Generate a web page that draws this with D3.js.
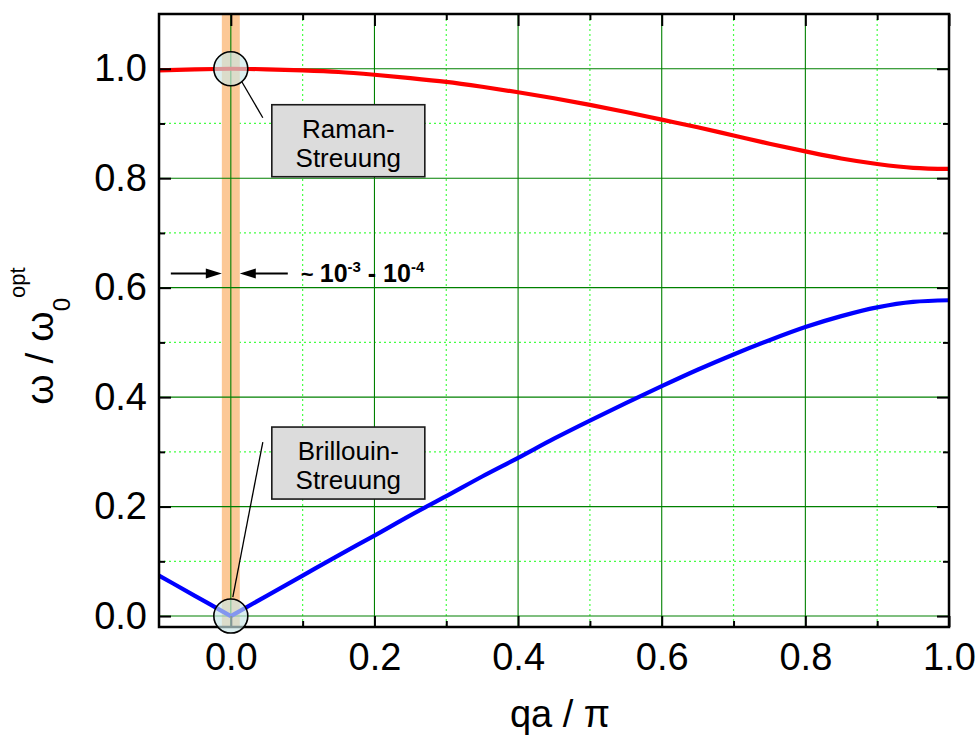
<!DOCTYPE html>
<html>
<head>
<meta charset="utf-8">
<script src="https://cdn.jsdelivr.net/npm/d3@7"></script>
<style>
  body { margin: 0; background: #fff; }
  svg { display: block; }
  text { font-family: "Liberation Sans", Arial, Helvetica, sans-serif; fill: #000; }
</style>
</head>
<body>
<svg id="chart" width="977" height="736"></svg>
<script>
// Reduced wave vector qa/pi
const qa = [-0.10, -0.05, 0.00, 0.05, 0.10, 0.15, 0.20, 0.25, 0.30, 0.35, 0.40, 0.45,
            0.50, 0.55, 0.60, 0.65, 0.70, 0.75, 0.80, 0.85, 0.90, 0.95, 1.00];
// Optical branch, omega / omega0(opt)
const optical = [0.997, 0.999, 1.000, 0.999, 0.997, 0.994, 0.989, 0.983, 0.976, 0.967, 0.957, 0.946,
                 0.934, 0.921, 0.907, 0.893, 0.878, 0.863, 0.849, 0.836, 0.826, 0.819, 0.817];
// Acoustic branch, omega / omega0(opt)
const acoustic = [0.074, 0.037, 0.000, 0.037, 0.074, 0.111, 0.147, 0.184, 0.219, 0.255, 0.289, 0.324,
                  0.357, 0.389, 0.420, 0.450, 0.478, 0.504, 0.528, 0.548, 0.564, 0.574, 0.577];

const xMajor = [0.0, 0.2, 0.4, 0.6, 0.8, 1.0];
const xMinor = [0.1, 0.3, 0.5, 0.7, 0.9];
const yMajor = [0.0, 0.2, 0.4, 0.6, 0.8, 1.0];
const yMinor = [0.1, 0.3, 0.5, 0.7, 0.9];
const xDomain = [-0.1, 1.0];
const yDomain = [-0.02, 1.1];

// Width of the light-scattering window around q = 0 (in qa/pi)
const windowHalfWidth = 0.0125;
// Height at which the window width is annotated
const arrowLevel = 0.626;

const svg = d3.select("#chart");
const L = 159, R = 949, T = 14, B = 627;

const x = d3.scaleLinear().domain(xDomain).range([L, R]);
const y = d3.scaleLinear().domain(yDomain).range([B, T]);

// ---- minor grid ----
const grid = svg.append("g");
grid.selectAll(".vmin").data(xMinor).join("line")
  .attr("x1", d => x(d)).attr("x2", d => x(d)).attr("y1", T).attr("y2", B)
  .attr("stroke", "#44ff44").attr("stroke-width", 1.2).attr("stroke-dasharray", "2,3");
grid.selectAll(".hmin").data(yMinor).join("line")
  .attr("x1", L).attr("x2", R).attr("y1", d => y(d)).attr("y2", d => y(d))
  .attr("stroke", "#44ff44").attr("stroke-width", 1.2).attr("stroke-dasharray", "2,3");

// ---- scattering window band ----
svg.append("rect")
  .attr("x", x(-windowHalfWidth)).attr("width", x(windowHalfWidth) - x(-windowHalfWidth))
  .attr("y", T).attr("height", B - T)
  .attr("fill", "#fcc896");

// ---- major grid ----
const gridMajor = svg.append("g");
gridMajor.selectAll(".vmaj").data(xMajor).join("line")
  .attr("x1", d => x(d)).attr("x2", d => x(d)).attr("y1", T).attr("y2", B)
  .attr("stroke", "#008000").attr("stroke-width", 1.1);
gridMajor.selectAll(".hmaj").data(yMajor).join("line")
  .attr("x1", L).attr("x2", R).attr("y1", d => y(d)).attr("y2", d => y(d))
  .attr("stroke", "#008000").attr("stroke-width", 1.1);

// ---- dispersion curves ----
const line = d3.line().x(d => x(d[0])).y(d => y(d[1])).curve(d3.curveMonotoneX);
const optPts = qa.map((q, i) => [q, optical[i]]);
const acPts = qa.map((q, i) => [q, acoustic[i]]);
// acoustic branch has a cusp at q = 0: smooth each side separately
const acLeft = acPts.filter(p => p[0] <= 0);
const acRight = acPts.filter(p => p[0] >= 0);

svg.append("path").datum(optPts).attr("d", line)
  .attr("fill", "none").attr("stroke", "#ff0000").attr("stroke-width", 4.2);
svg.append("path").attr("d", line(acLeft) + line(acRight))
  .attr("fill", "none").attr("stroke", "#0000ff").attr("stroke-width", 4.2)
  .attr("stroke-linejoin", "round");

// ---- axes ----
const fmt = d3.format(".1f");
function styleAxis(g) {
  g.select(".domain").remove();
  g.selectAll(".tick line").attr("stroke", "#000").attr("stroke-width", 2);
  g.selectAll(".tick text").attr("font-size", 38).attr("fill", "#000")
    .attr("font-family", '"Liberation Sans", Arial, sans-serif');
}

svg.append("g").attr("transform", `translate(0,${B})`)
  .call(d3.axisBottom(x).tickValues(xMajor).tickSizeInner(-11).tickSizeOuter(0).tickPadding(16).tickFormat(fmt))
  .call(styleAxis);
svg.append("g").attr("transform", `translate(0,${B})`)
  .call(d3.axisBottom(x).tickValues(xMinor).tickSizeInner(-6).tickSizeOuter(0).tickFormat(""))
  .call(styleAxis);
svg.append("g").attr("transform", `translate(0,${T})`)
  .call(d3.axisTop(x).tickValues(xMajor).tickSizeInner(-12).tickSizeOuter(0).tickFormat(""))
  .call(styleAxis);
svg.append("g").attr("transform", `translate(0,${T})`)
  .call(d3.axisTop(x).tickValues(xMinor).tickSizeInner(-6).tickSizeOuter(0).tickFormat(""))
  .call(styleAxis);

svg.append("g").attr("transform", `translate(${L},0)`)
  .call(d3.axisLeft(y).tickValues(yMajor).tickSizeInner(-12).tickSizeOuter(0).tickPadding(12).tickFormat(fmt))
  .call(styleAxis);
svg.append("g").attr("transform", `translate(${L},0)`)
  .call(d3.axisLeft(y).tickValues(yMinor).tickSizeInner(-6).tickSizeOuter(0).tickFormat(""))
  .call(styleAxis);
svg.append("g").attr("transform", `translate(${R},0)`)
  .call(d3.axisRight(y).tickValues(yMajor).tickSizeInner(-12).tickSizeOuter(0).tickFormat(""))
  .call(styleAxis);
svg.append("g").attr("transform", `translate(${R},0)`)
  .call(d3.axisRight(y).tickValues(yMinor).tickSizeInner(-6).tickSizeOuter(0).tickFormat(""))
  .call(styleAxis);

// plot frame
svg.append("rect").attr("x", L).attr("y", T).attr("width", R - L).attr("height", B - T)
  .attr("fill", "none").attr("stroke", "#000").attr("stroke-width", 2.5);

// ---- axis titles ----
svg.append("text")
  .attr("x", (L + R) / 2 + 6).attr("y", 727)
  .attr("text-anchor", "middle").attr("font-size", 38)
  .text("qa / π");

const yt = svg.append("text")
  .attr("transform", "translate(53,336) rotate(-90)")
  .attr("text-anchor", "middle").attr("font-size", 39);
yt.append("tspan").text("ω / ω");
yt.append("tspan").attr("dy", 17).attr("font-size", 24).text("0");
yt.append("tspan").attr("dy", -45).attr("font-size", 22).text("opt");

// ---- window width annotation ----
const ay = y(arrowLevel);
const bandL = x(-windowHalfWidth), bandR = x(windowHalfWidth);
function arrow(x1, x2) {
  const dir = Math.sign(x2 - x1);
  svg.append("line").attr("x1", x1).attr("x2", x2 - dir * 10).attr("y1", ay).attr("y2", ay)
    .attr("stroke", "#000").attr("stroke-width", 2);
  svg.append("path")
    .attr("d", `M${x2},${ay} L${x2 - dir * 16},${ay - 5} L${x2 - dir * 16},${ay + 5} Z`)
    .attr("fill", "#000");
}
arrow(bandL - 51, bandL);
arrow(bandR + 48, bandR);

const wt = svg.append("text").attr("x", bandR + 61).attr("y", ay + 9)
  .attr("font-size", 25).attr("font-weight", "bold");
wt.append("tspan").attr("font-size", 22).text("~ ");
wt.append("tspan").text("10");
wt.append("tspan").attr("dy", -10).attr("font-size", 15).text("-3");
wt.append("tspan").attr("dy", 10).text(" - 10");
wt.append("tspan").attr("dy", -10).attr("font-size", 15).text("-4");

// ---- scattering labels ----
function callout(cx, cy, boxX, boxY, lx1, ly1, lx2, ly2, lines, baseline0) {
  svg.append("line").attr("x1", lx1).attr("y1", ly1).attr("x2", lx2).attr("y2", ly2)
    .attr("stroke", "#000").attr("stroke-width", 1.3);
  svg.append("rect").attr("x", boxX).attr("y", boxY).attr("width", 153).attr("height", 72)
    .attr("fill", "#dcdcdc").attr("stroke", "#1a1a1a").attr("stroke-width", 1.6);
  lines.forEach((t, i) => {
    svg.append("text").attr("x", boxX + 76.5).attr("y", boxY + baseline0 + i * 29)
      .attr("text-anchor", "middle").attr("font-size", 26).text(t);
  });
  svg.append("circle").attr("cx", cx).attr("cy", cy).attr("r", 17)
    .attr("fill", "#c9e6e6").attr("fill-opacity", 0.65)
    .attr("stroke", "#000").attr("stroke-width", 1.6);
}

const rx = x(0), ry = y(optical[qa.indexOf(0)]);
callout(rx, ry, rx + 41, ry + 36, rx + 11, ry + 13, rx + 32, ry + 49, ["Raman-", "Streuung"], 33);

const bx = x(0), by = y(acoustic[qa.indexOf(0)]);
callout(bx, by, bx + 41, by - 189, bx + 32, by - 174, bx + 2, by - 19, ["Brillouin-", "Streuung"], 33);
</script>
</body>
</html>
